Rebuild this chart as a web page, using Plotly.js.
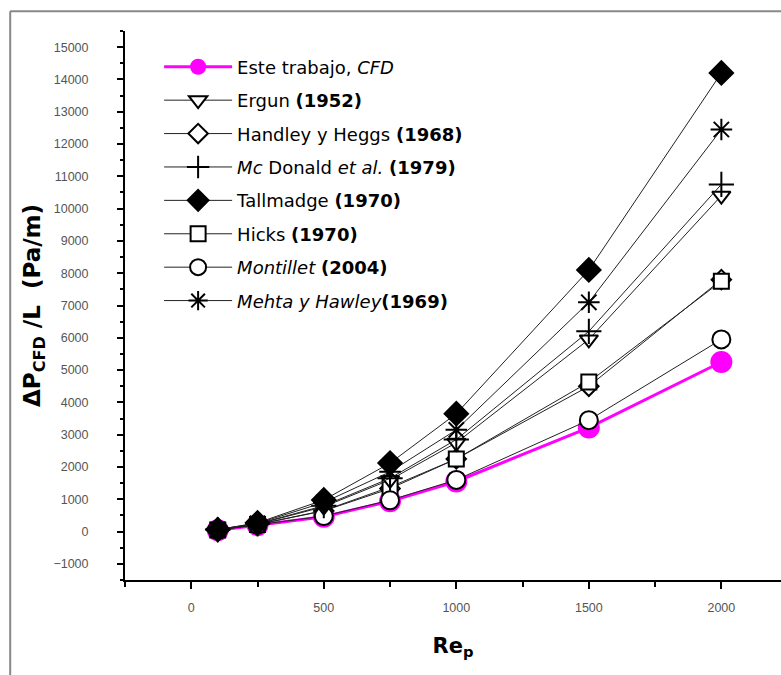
<!DOCTYPE html>
<html>
<head>
<meta charset="utf-8">
<script src="https://cdn.plot.ly/plotly-3.0.1.min.js"></script>
<style>html,body{margin:0;padding:0;background:#fff;}#chart{width:781px;height:675px;}</style>
</head>
<body>
<div id="chart"></div>
<script>
// Reynolds numbers (x)
const rep = [100, 250, 500, 750, 1000, 1500, 2000];

// Pressure drop per length (Pa/m)
const esteTrabajo = [40, 200, 460, 940, 1550, 3220, 5250];
const ergun       = [55, 230, 770, 1600, 2750, 5950, 10400];
const handley     = [50, 220, 640, 1330, 2250, 4500, 7800];
const mcDonald    = [60, 240, 800, 1650, 2850, 6200, 10750];
const tallmadge   = [60, 270, 980, 2120, 3650, 8100, 14200];
const hicks       = [50, 220, 650, 1380, 2250, 4630, 7750];
const montillet   = [45, 210, 480, 970, 1600, 3450, 5950];
const mehta       = [60, 255, 900, 1850, 3150, 7100, 12450];

const legendNames = [
  "Este trabajo, <i>CFD</i>",
  "Ergun <b>(1952)</b>",
  "Handley y Heggs <b>(1968)</b>",
  "<i>Mc</i> Donald <i>et al.</i> <b>(1979)</b>",
  "Tallmadge <b>(1970)</b>",
  "Hicks <b>(1970)</b>",
  "<i>Montillet</i> <b>(2004)</b>",
  "<i>Mehta y Hawley</i><b>(1969)</b>"
];

function blackTrace(y, name, rank, symbol, size, fill) {
  return {
    x: rep, y: y, name: name, legendrank: rank, legendgroup: 'g' + rank,
    type: 'scatter', mode: 'lines+markers',
    line: {color: '#222', width: 1},
    marker: {symbol: symbol, size: size, color: fill,
             line: {color: '#000', width: 2}}
  };
}

const traces = [
  {x: rep, y: esteTrabajo, name: legendNames[0], legendrank: 1, legendgroup: 'g1',
   type: 'scatter', mode: 'lines+markers',
   line: {color: '#ff00ff', width: 3},
   marker: {symbol: 'circle', size: 22, color: '#ff00ff', line: {width: 0}}},
  blackTrace(handley,   legendNames[2], 3, 'diamond', 15, '#ffffff'),
  blackTrace(hicks,     legendNames[5], 6, 'square', 15, '#ffffff'),
  blackTrace(montillet, legendNames[6], 7, 'circle', 18, '#ffffff'),
  blackTrace(ergun,     legendNames[1], 2, 'triangle-down', 16, '#ffffff'),
  blackTrace(mcDonald,  legendNames[3], 4, 'cross-thin-open', 18, '#000'),
  blackTrace(mehta,     legendNames[7], 8, 'asterisk-open', 18, '#000'),
  blackTrace(tallmadge, legendNames[4], 5, 'diamond', 18, '#000000')
];

const tickFont = {family: 'Liberation Sans, Arial, sans-serif', size: 12.5, color: '#555'};

const layout = {
  width: 781, height: 675,
  margin: {l: 125, r: 0, t: 31, b: 95, pad: 0},
  paper_bgcolor: '#ffffff', plot_bgcolor: '#ffffff',
  showlegend: true,
  legend: {
    x: 0.052, y: 0.968, xanchor: 'left', yanchor: 'top',
    bgcolor: 'rgba(0,0,0,0)', borderwidth: 0,
    font: {family: 'DejaVu Sans, sans-serif', size: 18, color: '#000'},
    tracegroupgap: 7, itemwidth: 68, itemsizing: 'trace'
  },
  xaxis: {
    range: [-250, 2225], showgrid: false, zeroline: false,
    showline: true, linecolor: '#000', linewidth: 2,
    ticks: 'outside', ticklen: 7, tickwidth: 2, tickcolor: '#000',
    tick0: 0, dtick: 500, tickformat: 'd',
    minor: {ticks: 'outside', ticklen: 5, tickwidth: 2, tickcolor: '#000', dtick: 250},
    tickfont: tickFont, ticklabelstandoff: 8,
    title: {text: '<b>Re<sub>p</sub></b>',
            font: {family: 'DejaVu Sans, sans-serif', size: 21, color: '#000'}, standoff: 24}
  },
  yaxis: {
    range: [-1500, 15500], showgrid: false, zeroline: false,
    showline: true, linecolor: '#000', linewidth: 2,
    ticks: 'outside', ticklen: 6, tickwidth: 2, tickcolor: '#000',
    tick0: 0, dtick: 1000, tickformat: 'd',
    minor: {ticks: 'outside', ticklen: 3, tickwidth: 2, tickcolor: '#000', dtick: 500},
    tickfont: tickFont, ticklabelstandoff: 26,
    title: {text: '<b>ΔP<sub>CFD</sub> /L  (Pa/m)</b>',
            font: {family: 'DejaVu Sans, sans-serif', size: 23, color: '#000'}, standoff: 6}
  },
  shapes: [
    {type: 'line', xref: 'paper', yref: 'paper', x0: -0.175, x1: -0.175, y0: 1.036, y1: -0.2,
     line: {color: '#888', width: 2}},
    {type: 'line', xref: 'paper', yref: 'paper', x0: -0.175, x1: 1.05, y0: 1.036, y1: 1.036,
     line: {color: '#888', width: 2}}
  ]
};

Plotly.newPlot('chart', traces, layout, {displayModeBar: false, staticPlot: true});
</script>
</body>
</html>
